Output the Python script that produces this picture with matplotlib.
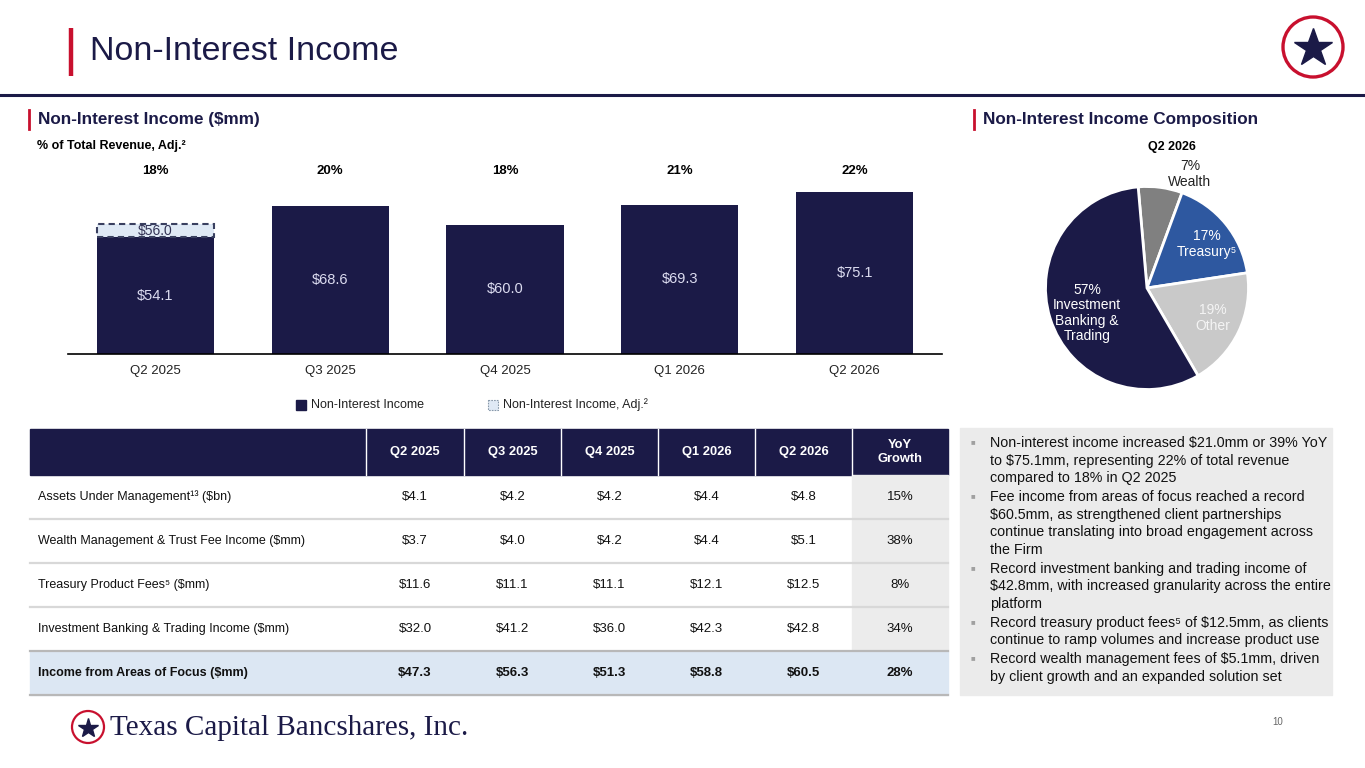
import matplotlib

matplotlib.use("Agg")
import matplotlib.pyplot as plt
from matplotlib.patches import Circle, Rectangle

plt.rcParams["font.family"] = ["Liberation Sans", "DejaVu Sans"]

NAVY = "#1b1a47"
RED = "#c8102e"
BLUE = "#2e58a0"
GREY = "#808080"
LIGHT_GREY = "#c9c9c9"
ADJ_FILL = "#dfe9f5"

# bar chart data
quarters = ["Q2 2025", "Q3 2025", "Q4 2025", "Q1 2026", "Q2 2026"]
nii = [54.1, 68.6, 60.0, 69.3, 75.1]
nii_adj_q2_2025 = 56.0
adj_box_top = 60.3  # the slide draws the adjusted box taller than to scale
pct_revenue = ["18%", "20%", "18%", "21%", "22%"]

# pie data (Q2 2026 composition)
pie_labels = ["7%\nWealth", "17%\nTreasury\u2075", "19%\nOther",
              "57%\nInvestment\nBanking &\nTrading"]
pie_shares = [7, 17, 19, 57]
pie_colors = [GREY, BLUE, LIGHT_GREY, NAVY]

# table data
table_cols = ["Q2 2025", "Q3 2025", "Q4 2025", "Q1 2026", "Q2 2026", "YoY\nGrowth"]
table_rows = ["Assets Under Management\u00b9\u00b3 ($bn)",
              "Wealth Management & Trust Fee Income ($mm)",
              "Treasury Product Fees\u2075 ($mm)",
              "Investment Banking & Trading Income ($mm)",
              "Income from Areas of Focus ($mm)"]
aum = ["$4.1", "$4.2", "$4.2", "$4.4", "$4.8", "15%"]
wealth_fees = ["$3.7", "$4.0", "$4.2", "$4.4", "$5.1", "38%"]
treasury_fees = ["$11.6", "$11.1", "$11.1", "$12.1", "$12.5", "8%"]
ib_trading = ["$32.0", "$41.2", "$36.0", "$42.3", "$42.8", "34%"]
focus_total = ["$47.3", "$56.3", "$51.3", "$58.8", "$60.5", "28%"]
table_values = [aum, wealth_fees, treasury_fees, ib_trading, focus_total]

bullets = [
    ["Non-interest income increased $21.0mm or 39% YoY",
     "to $75.1mm, representing 22% of total revenue",
     "compared to 18% in Q2 2025"],
    ["Fee income from areas of focus reached a record",
     "$60.5mm, as strengthened client partnerships",
     "continue translating into broad engagement across",
     "the Firm"],
    ["Record investment banking and trading income of",
     "$42.8mm, with increased granularity across the entire",
     "platform"],
    ["Record treasury product fees\u2075 of $12.5mm, as clients",
     "continue to ramp volumes and increase product use"],
    ["Record wealth management fees of $5.1mm, driven",
     "by client growth and an expanded solution set"],
]

W, H = 1365, 768
fig = plt.figure(figsize=(W / 100, H / 100), dpi=100)

# page layer in pixel coordinates
bg = fig.add_axes([0, 0, 1, 1], zorder=0)
bg.set_xlim(0, W)
bg.set_ylim(H, 0)
bg.axis("off")

# title + rule
bg.plot([71, 71], [28, 76], color=RED, lw=3.2, solid_capstyle="butt")
bg.text(90, 51, "Non-Interest Income", fontsize=24.5, color=NAVY, va="center")
bg.plot([0, W], [95, 95], color=NAVY, lw=2.2)
bg.add_patch(Circle((1313, 47), 30, fill=False, ec=RED, lw=2.4))
bg.plot(1313, 48, marker="*", ms=29, color=NAVY, mec=NAVY)

# section headers
for x0, label in [(29, "Non-Interest Income ($mm)"), (974, "Non-Interest Income Composition")]:
    bg.plot([x0, x0], [110, 129], color=RED, lw=2)
    bg.text(x0 + 9, 119.5, label, fontsize=12.3, fontweight="bold", color=NAVY, va="center")
bg.text(37, 146, "% of Total Revenue, Adj.\u00b2", fontsize=9, fontweight="bold",
        color="black", va="center")

# bar chart
ax = fig.add_axes([68 / W, (H - 354) / H, 874 / W, 204 / H], zorder=2)
ax.patch.set_alpha(0)
x = range(len(quarters))
ax.bar(x, nii, width=0.67, color=NAVY)
ax.bar(0, adj_box_top - nii[0], bottom=nii[0], width=0.67, color=ADJ_FILL,
       edgecolor="#3a4060", linestyle=(0, (3, 2)), linewidth=1.5)
for i, v in enumerate(nii):
    ax.text(i, v / 2, f"${v:.1f}", ha="center", va="center", color="#dcdcf0", fontsize=10.5)
ax.text(0, (nii[0] + adj_box_top) / 2, f"${nii_adj_q2_2025:.1f}", ha="center",
        va="center", color="#333355", fontsize=10)
pct_tr = ax.get_xaxis_transform()
for i, p in enumerate(pct_revenue):
    ax.text(i, (354 - 171) / 204, p, transform=pct_tr, ha="center", va="center",
            fontsize=9.5, fontweight="bold", color="black")
ax.set_xlim(-0.5, 4.5)
ax.set_ylim(0, 204 / 2.157)
ax.set_xticks(list(x))
ax.set_xticklabels(quarters, fontsize=9.5, color="#222222")
ax.tick_params(axis="x", length=0, pad=8)
ax.set_yticks([])
for side in ["top", "right", "left"]:
    ax.spines[side].set_visible(False)
ax.spines["bottom"].set_color("black")
ax.spines["bottom"].set_linewidth(1.2)

# legend
bg.add_patch(Rectangle((296, 400), 10, 10, color=NAVY))
bg.text(311, 405, "Non-Interest Income", fontsize=9, va="center", color="#222222")
bg.add_patch(Rectangle((488, 400), 10, 10, fc=ADJ_FILL, ec="#8899aa", lw=0.8, ls=(0, (1.5, 1))))
bg.text(503, 405, "Non-Interest Income, Adj.\u00b2", fontsize=9, va="center", color="#222222")

# pie
r = 101.5
pax = fig.add_axes([(1147 - r) / W, (H - 288 - r) / H, 2 * r / W, 2 * r / H], zorder=2)
pax.pie(pie_shares, colors=pie_colors, startangle=95, counterclock=False, radius=1,
        wedgeprops=dict(edgecolor="white", linewidth=2))
pax.set_xlim(-1, 1)
pax.set_ylim(-1, 1)
bg.text(1172, 147, "Q2 2026", fontsize=9, fontweight="bold", ha="center", va="center")

top = fig.add_axes([0, 0, 1, 1], zorder=3)
top.set_xlim(0, W)
top.set_ylim(H, 0)
top.axis("off")
label_pos = [(1190, 174), (1207, 244), (1213, 318), (1087, 313)]
label_col = ["#222222", "white", "#f4f4f4", "white"]
for (px, py), lab, c in zip(label_pos, pie_labels, label_col):
    top.text(px, py, lab, fontsize=10, ha="center", va="center", color=c, linespacing=1.12)

# table
col_edges = [366, 464, 561, 658, 755, 852, 948]
tab_left = 30
head_top, head_bot = 429, 475
row_h = 44
bg.add_patch(Rectangle((tab_left, head_top), col_edges[-1] - tab_left, head_bot - head_top,
                       color=NAVY, zorder=1))
for e in col_edges[:-1]:
    bg.plot([e, e], [head_top, head_bot], color="white", lw=1, zorder=2)
for j, c in enumerate(table_cols):
    cx = (col_edges[j] + col_edges[j + 1]) / 2
    bg.text(cx, (head_top + head_bot) / 2, c, color="white", fontsize=9.3, fontweight="bold",
            ha="center", va="center", linespacing=1.2, zorder=3)
n_rows = len(table_rows)
bg.add_patch(Rectangle((col_edges[-2], head_bot), col_edges[-1] - col_edges[-2],
                       row_h * (n_rows - 1), color="#ececec", zorder=1))
last_top = head_bot + row_h * (n_rows - 1)
bg.add_patch(Rectangle((tab_left, last_top), col_edges[-1] - tab_left, row_h,
                       color="#dce7f3", zorder=1))
for i, (lab, vals) in enumerate(zip(table_rows, table_values)):
    cy = head_bot + row_h * (i + 0.5)
    bold = "bold" if i == n_rows - 1 else "normal"
    bg.text(38, cy, lab, fontsize=9, fontweight=bold, color="#111111", va="center", zorder=3)
    for j, v in enumerate(vals):
        cx = (col_edges[j] + col_edges[j + 1]) / 2
        bg.text(cx, cy, v, fontsize=9.5, fontweight=bold, color="#111111",
                ha="center", va="center", zorder=3)
    yb = head_bot + row_h * (i + 1)
    lc = "#b8b8b8" if i >= n_rows - 2 else "#d8d8d8"
    bg.plot([tab_left, col_edges[-1]], [yb, yb], color=lc, lw=1.6, zorder=2)

# commentary box
bg.add_patch(Rectangle((960, 428), 372, 267, color="#ebebeb", zorder=1))
y = 443
for para in bullets:
    bg.text(973, y, "\u25a0", fontsize=5.5, color="#a0a0a0", ha="center", va="center", zorder=3)
    for line in para:
        bg.text(990, y, line, fontsize=10.3, color="#111111", va="center", zorder=3)
        y += 17.6
    y += 1.2

# footer
bg.add_patch(Circle((88, 727), 16, fc="white", ec=RED, lw=1.6, zorder=3))
bg.plot(88, 728, marker="*", ms=15, color=NAVY, zorder=4)
bg.text(110, 728, "Texas Capital Bancshares, Inc.", family="Liberation Serif",
        fontsize=21, color=NAVY, va="center", zorder=3)
bg.text(1272, 722, "10", fontsize=7, color="#666666", va="center")

fig.savefig("out.png", dpi=100)
